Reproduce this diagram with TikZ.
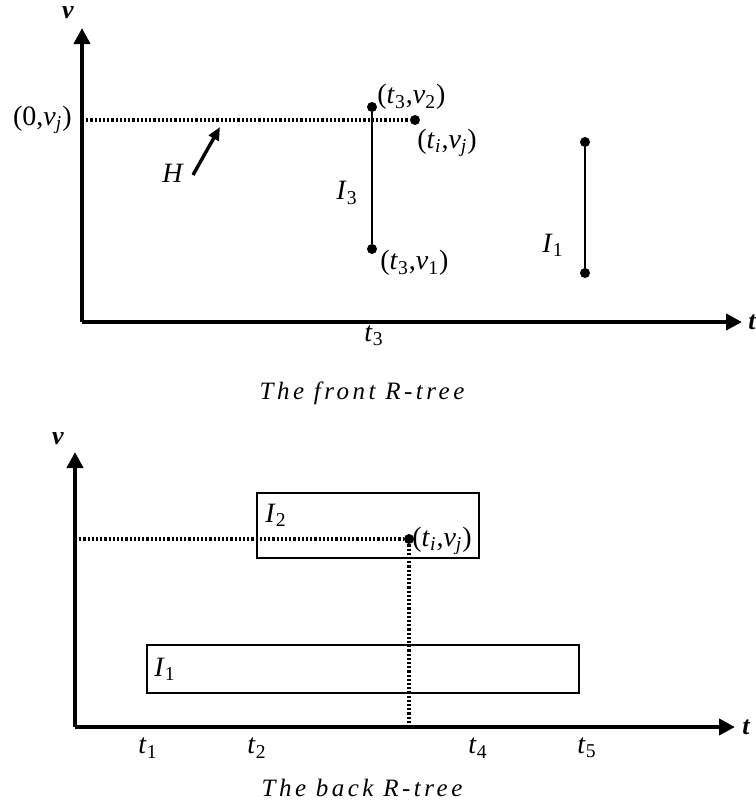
\documentclass[tikz,border=0pt]{standalone}
\usepackage{fontspec}
\setmainfont{Liberation Serif}
\usetikzlibrary{arrows.meta}
\newcommand\vs[2]{\textit{#1}\textsubscript{#2}}
\newcommand\capfont{\fontsize{12.5}{15}\selectfont\itshape\addfontfeature{LetterSpace=14}}
\tikzset{
  axis/.style={line width=2pt,-{Triangle[length=8pt,width=8pt]}},
  axlabel/.style={font=\fontsize{13}{15}\selectfont\bfseries\itshape},
  seg/.style={line width=1pt},
  hline/.style={line width=1.9pt,dash pattern=on 1.1pt off 1pt},
  dot/.style={circle,fill=black,inner sep=0pt,minimum size=5pt},
  rbox/.style={line width=1pt},
  harrow/.style={line width=1.7pt,-{Triangle[length=6.5pt,width=5.5pt]}}
}
\begin{document}
\begin{tikzpicture}[x=.5pt,y=-.5pt, every node/.style={font=\fontsize{14}{16}\selectfont,inner sep=1pt}]
  \useasboundingbox (0,0) rectangle (755,803);
  % the front R-tree
  \coordinate (o1) at (82,322);
  \coordinate (vtip1) at (82,28);
  \coordinate (ttip1) at (742,322);
  \draw[axis] (o1) -- (vtip1);
  \draw[axis] (o1) -- (ttip1);
  \node[axlabel] (vlab1) at (68,13) {v};
  \node[axlabel] (tlab1) at (752,322) {t};
  \coordinate (vj1) at (82,120);
  \node[dot] (tivj1) at (415,120) {};
  \node[dot] (t3v2) at (372,107) {};
  \node[dot] (t3v1) at (372,249) {};
  \draw[hline] (vj1) -- (tivj1);
  \draw[seg] (t3v2) -- (t3v1);
  \node[dot] (i1top) at (585,142) {};
  \node[dot] (i1bot) at (585,273) {};
  \draw[seg] (i1top) -- (i1bot);
  \node[anchor=east] (lvj1) at (74,120) {(0,\vs{v}{\textit{j}})};
  \node[anchor=west] (lt3v2) at (375,97) {(\vs{t}{3},\vs{v}{2})};
  \node[anchor=west] (lt3v1) at (378,263) {(\vs{t}{3},\vs{v}{1})};
  \node[anchor=west] (ltivj1) at (415,143) {(\vs{t}{\textit{i}},\vs{v}{\textit{j}})};
  \node (li3) at (347,193) {\vs{I}{3}};
  \node (li1a) at (553,245) {\vs{I}{1}};
  \node (lt3) at (374,336) {\vs{t}{3}};
  \node (lh) at (173,173) {\textit{H}};
  \coordinate (hs) at (193,175);
  \coordinate (he) at (220,127);
  \draw[harrow] (hs) -- (he);
  \node (cap1) at (362,393) {\capfont The front R-tree};
  % the back R-tree
  \coordinate (o2) at (75,727);
  \coordinate (vtip2) at (75,452);
  \coordinate (ttip2) at (735,727);
  \draw[axis] (o2) -- (vtip2);
  \draw[axis] (o2) -- (ttip2);
  \node[axlabel] (vlab2) at (58,439) {v};
  \node[axlabel] (tlab2) at (746,727) {t};
  \draw[rbox] (257,493) rectangle (479,558);
  \draw[rbox] (147,645) rectangle (579,693);
  \node (li2) at (276,515) {\vs{I}{2}};
  \node (li1b) at (165,669) {\vs{I}{1}};
  \coordinate (vj2) at (75,539);
  \coordinate (ti2) at (409,727);
  \node[dot] (tivj2) at (409,539) {};
  \draw[hline] (vj2) -- (tivj2);
  \draw[hline] (tivj2) -- (ti2);
  \node[anchor=west] (ltivj2) at (410,541) {(\vs{t}{\textit{i}},\vs{v}{\textit{j}})};
  \foreach \tx/\ti in {148/1,257/2,478/4,587/5}
    \node (lt\ti) at (\tx,748) {\vs{t}{\ti}};
  \node (cap2) at (362,788) {\capfont The back R-tree};
\end{tikzpicture}
\end{document}
